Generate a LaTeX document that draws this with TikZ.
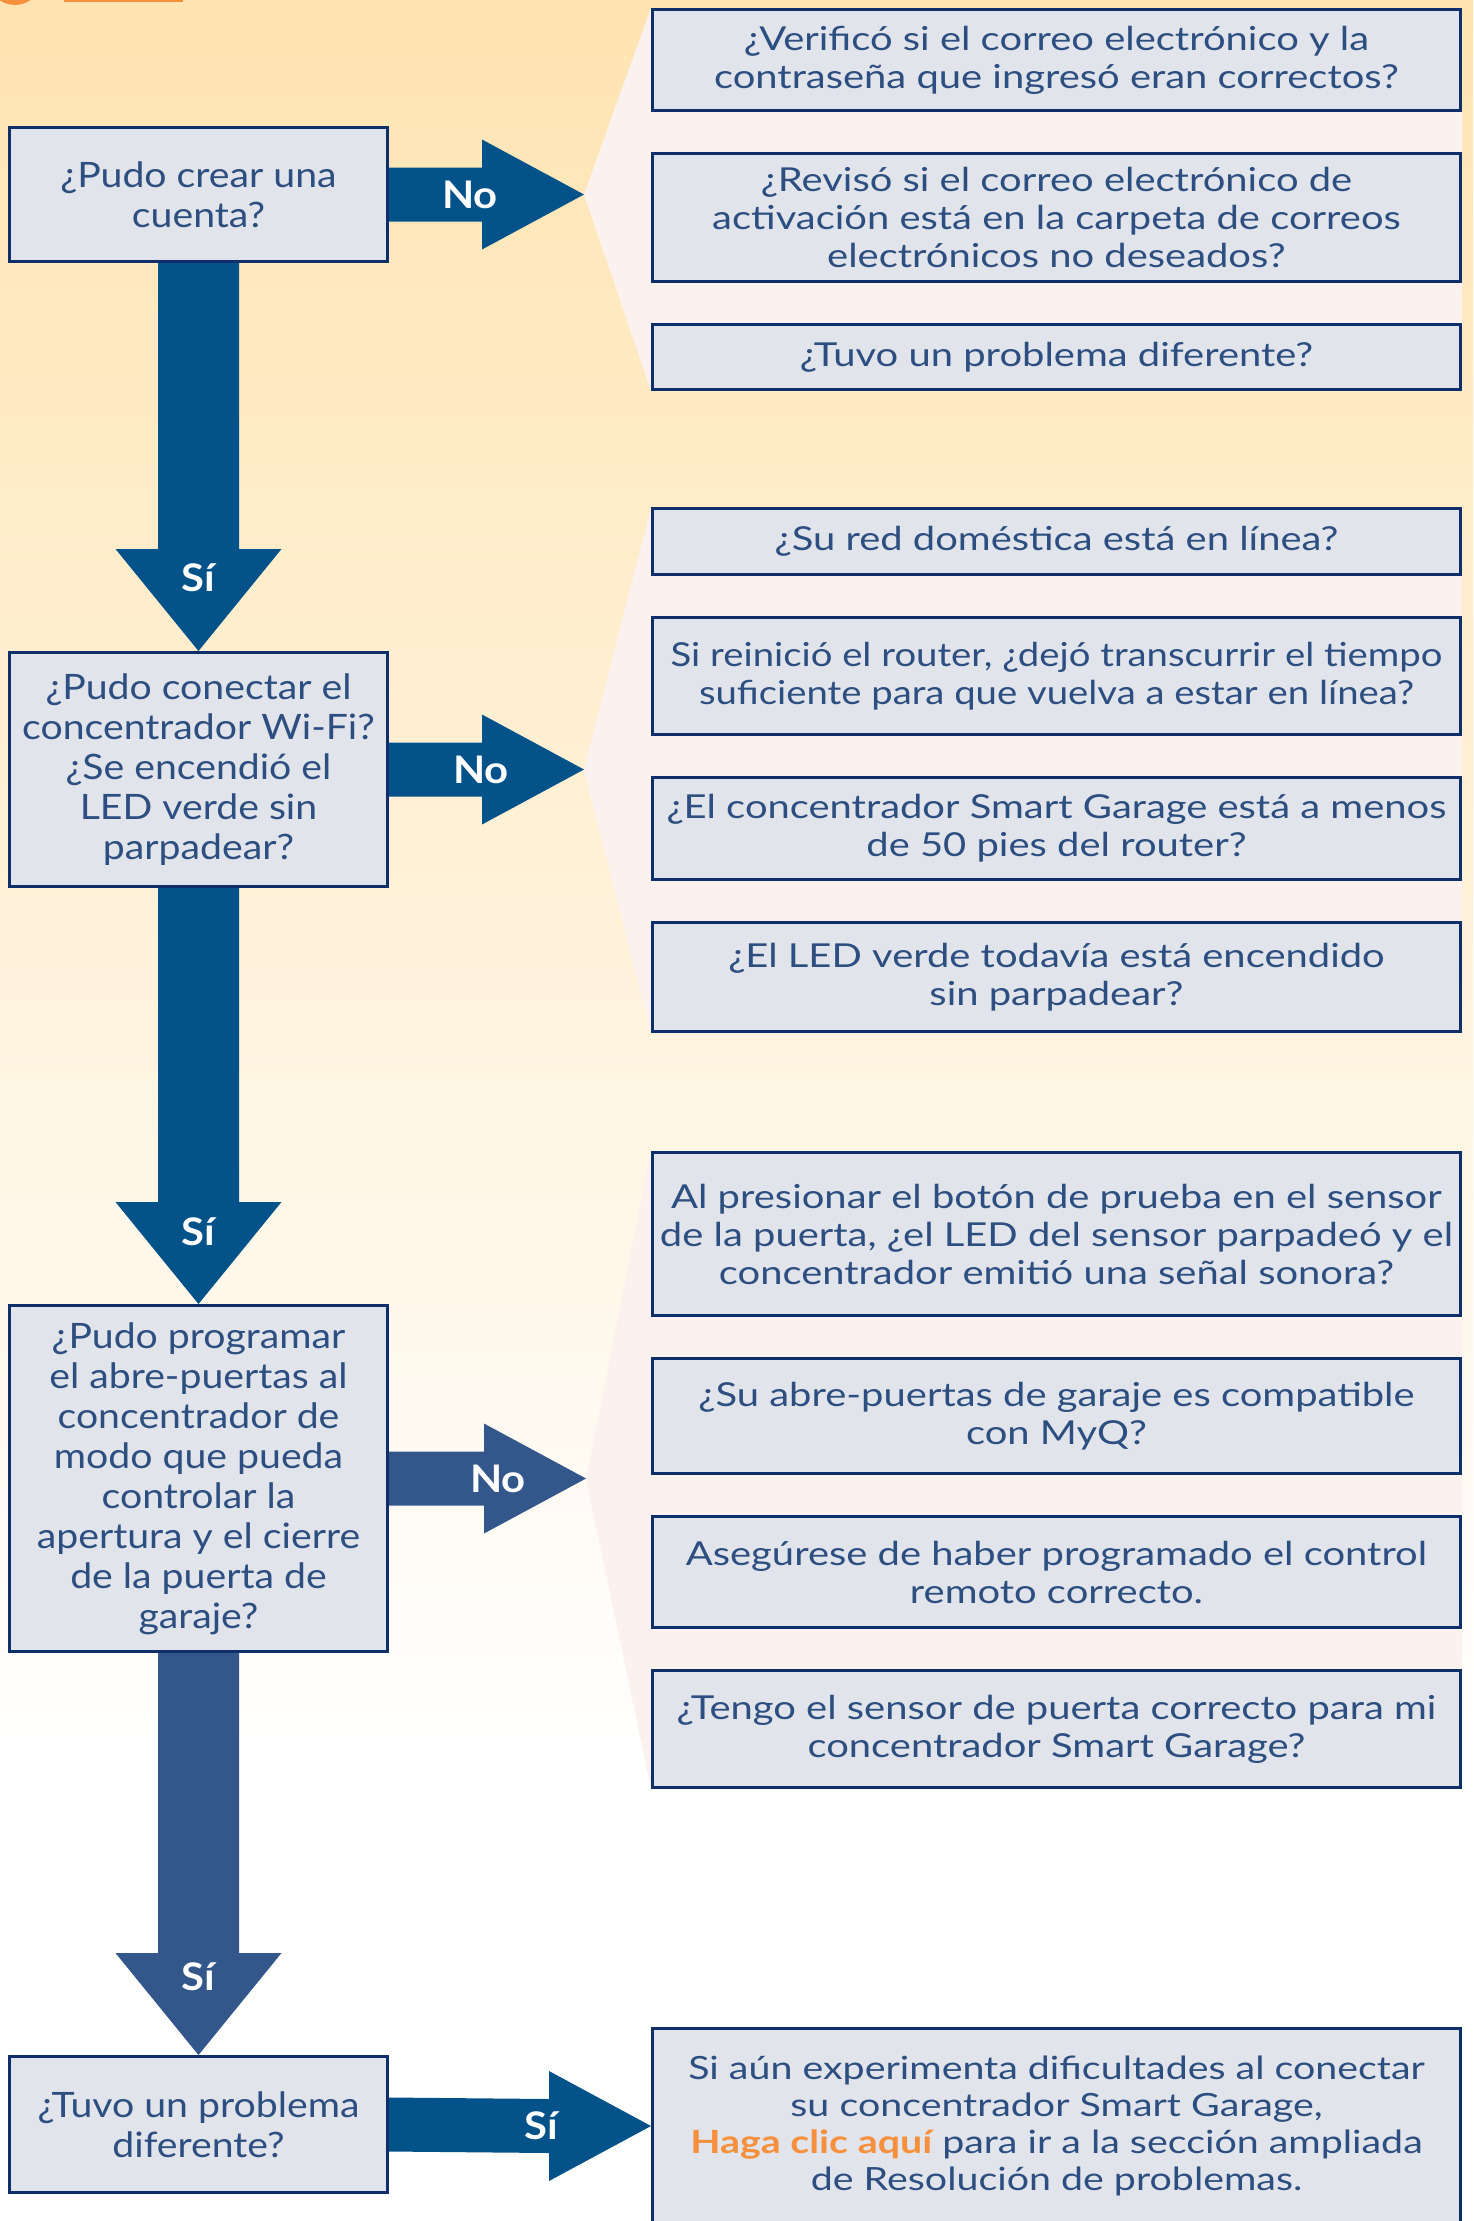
\documentclass[tikz,border=0pt]{standalone}
\usepackage{fontspec}
\setmainfont{Lato}
\newfontfamily\qfont[FakeStretch=1.12]{Lato}
\newfontfamily\afont[FakeStretch=1.21]{Lato}
\newfontfamily\narrowfont[FakeStretch=1.16]{Lato}
\newfontfamily\finfont[FakeStretch=1.23]{Lato}
\newfontfamily\lblfont[FakeStretch=1.1]{Lato}
\usetikzlibrary{positioning,calc,backgrounds}
\definecolor{flowblue}{RGB}{3,82,138}
\definecolor{flowslate}{RGB}{51,87,138}
\definecolor{boxgray}{RGB}{225,228,234}
\definecolor{boxnavy}{RGB}{14,47,106}
\definecolor{textblue}{RGB}{44,78,128}
\definecolor{fanpink}{RGB}{251,242,240}
\definecolor{peach}{RGB}{255,228,178}
\definecolor{clicorange}{RGB}{247,144,60}

\begin{document}
\begin{tikzpicture}[x=1pt, y=-1pt, node distance=40pt,
    every node/.style={inner sep=0pt, text=textblue},
    qbox/.style={draw=boxnavy, line width=3pt, fill=boxgray, align=center, anchor=north west,
      minimum width=378pt, font=\qfont\fontsize{35}{40}\selectfont},
    abox/.style={draw=boxnavy, line width=3pt, fill=boxgray, align=center,
      minimum width=808pt, font=\afont\fontsize{33}{38}\selectfont},
    lbl/.style={text=white, font=\lblfont\fontsize{38}{40}\selectfont\bfseries},
    fatdown/.style={to path={
      ($(\tikztostart)+(-40.5,0)$) -- ($(\tikztotarget)+(-40.5,-102)$) -- ($(\tikztotarget)+(-83,-102)$)
      -- (\tikztotarget) -- ($(\tikztotarget)+(83,-102)$) -- ($(\tikztotarget)+(40.5,-102)$)
      -- ($(\tikztostart)+(40.5,0)$) -- cycle}},
    fatright/.style={to path={
      ($(\tikztostart)+(0,-27)$) -- ($(\tikztotarget)+(-102,-27)$) -- ($(\tikztotarget)+(-102,-55)$)
      -- (\tikztotarget) -- ($(\tikztotarget)+(-102,55)$) -- ($(\tikztotarget)+(-102,27)$)
      -- ($(\tikztostart)+(0,27)$) -- cycle}}]
  \useasboundingbox (0,0) rectangle (1473,2221);

  % questions on the left
  \node[qbox, minimum height=134pt] (q1) at (8,126) {¿Pudo crear una\\cuenta?};
  \node[qbox, minimum height=234pt] (q2) at (8,651) {¿Pudo conectar el\\concentrador Wi-Fi?\\¿Se encendió el\\LED verde sin\\parpadear?};
  \node[qbox, minimum height=346pt] (q3) at (8,1304) {¿Pudo programar\\el abre-puertas al\\concentrador de\\modo que pueda\\controlar la\\apertura y el cierre\\de la puerta de\\garaje?};
  \node[qbox, minimum height=136pt] (q4) at (8,2055) {¿Tuvo un problema\\diferente?};

  % checks for the first question
  \node[abox, anchor=north west, minimum height=101pt] (r1a) at (651,8) {¿Verificó si el correo electrónico y la\\contraseña que ingresó eran correctos?};
  \node[abox, below=of r1a, minimum height=128pt] (r1b) {¿Revisó si el correo electrónico de\\activación está en la carpeta de correos\\electrónicos no deseados?};
  \node[abox, below=of r1b, minimum height=65pt] (r1c) {¿Tuvo un problema diferente?};

  % checks for the second question
  \node[abox, anchor=north west, minimum height=66pt] (r2a) at (651,507) {¿Su red doméstica está en línea?};
  \node[abox, below=of r2a, minimum height=117pt, font=\narrowfont\fontsize{33}{38}\selectfont] (r2b) {Si reinició el router, ¿dejó transcurrir el tiempo\\suficiente para que vuelva a estar en línea?};
  \node[abox, below=of r2b, minimum height=102pt] (r2c) {¿El concentrador Smart Garage está a menos\\de 50 pies del router?};
  \node[abox, below=of r2c, minimum height=109pt] (r2d) {¿El LED verde todavía está encendido\\sin parpadear?};

  % checks for the third question
  \node[abox, anchor=north west, minimum height=163pt] (r3a) at (651,1151) {Al presionar el botón de prueba en el sensor\\de la puerta, ¿el LED del sensor parpadeó y el\\concentrador emitió una señal sonora?};
  \node[abox, below=of r3a, minimum height=115pt] (r3b) {¿Su abre-puertas de garaje es compatible\\con MyQ?};
  \node[abox, below=of r3b, minimum height=111pt] (r3c) {Asegúrese de haber programado el control\\remoto correcto.};
  \node[abox, below=of r3c, minimum height=117pt] (r3d) {¿Tengo el sensor de puerta correcto para mi\\concentrador Smart Garage?};

  \node[abox, anchor=north west, minimum height=195pt, font=\finfont\fontsize{32}{37}\selectfont] (fin) at (651,2027) {Si aún experimenta dificultades al conectar\\su concentrador Smart Garage,\\\textcolor{clicorange}{\bfseries Haga clic aquí} para ir a la sección ampliada\\de Resolución de problemas.};

  % arrows
  \coordinate[right=195pt of q1.east] (t1);
  \coordinate[right=195pt of q2.east] (t2);
  \coordinate[right=197pt of q3.east] (t3);

  \fill[flowblue, fatdown] (q1.south) to (q2.north);
  \fill[flowblue, fatdown] (q2.south) to (q3.north);
  \fill[flowslate, fatdown] (q3.south) to (q4.north);
  \fill[flowblue, fatright] (q1.east) to (t1);
  \fill[flowblue, fatright] (q2.east) to (t2);
  \fill[flowslate, fatright] (q3.east) to (t3);
  \fill[flowblue, fatright] (q4.east) to (fin.west);

  \node[lbl] at ($(q2.north)+(0,-73)$) {Sí};
  \node[lbl] at ($(q3.north)+(0,-72)$) {Sí};
  \node[lbl] at ($(q4.north)+(0,-78)$) {Sí};
  \node[lbl] at ($(t1)+(-114,0)$) {No};
  \node[lbl] at ($(t2)+(-103,0)$) {No};
  \node[lbl] at ($(t3)+(-88,0)$) {No};
  \node[lbl] at ($(fin.west)+(-110,0)$) {Sí};

  \begin{scope}[on background layer]
    \shade[top color=peach, bottom color=white] (0,0) rectangle (1473,1750);
    \fill[white] (0,1750) rectangle (1473,2221);
    \fill[clicorange] (15,-22) circle (27);
    \fill[clicorange] (64,-5) rectangle (183,2);
    \fill[fanpink] (t1) -- (r1a.north west) -- (r1a.north east) -- (r1c.south east) -- (r1c.south west) -- cycle;
    \fill[fanpink] (t2) -- (r2a.north west) -- (r2a.north east) -- (r2d.south east) -- (r2d.south west) -- cycle;
    \fill[fanpink] (t3) -- (r3a.north west) -- (r3a.north east) -- (r3d.south east) -- (r3d.south west) -- cycle;
  \end{scope}
\end{tikzpicture}
\end{document}
